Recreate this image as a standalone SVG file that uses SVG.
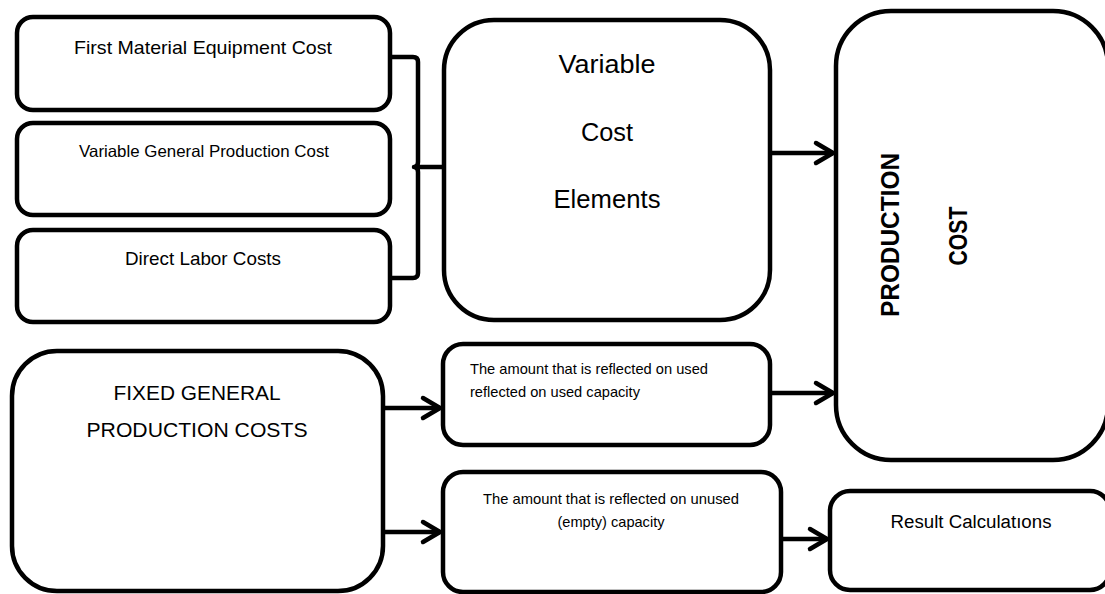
<svg xmlns="http://www.w3.org/2000/svg" width="1105" height="594" viewBox="0 0 1105 594">
<style>
.box{fill:#fff;stroke:#000;stroke-width:4.5}
.t{font-family:"Liberation Sans",Arial,sans-serif;fill:#000;text-anchor:middle}
.tl{font-family:"Liberation Sans",Arial,sans-serif;fill:#000;text-anchor:start}
.b{font-weight:bold}
.con{fill:none;stroke:#000;stroke-width:4.5;stroke-linecap:butt;stroke-linejoin:round}
</style>
<defs>
<marker id="arr" markerUnits="userSpaceOnUse" markerWidth="30" markerHeight="30" viewBox="-25 -15 30 30" refX="0" refY="0" orient="auto">
<path d="M-17,-10 L0,0 L-17,10" fill="none" stroke="#000" stroke-width="4.5" stroke-linecap="round" stroke-linejoin="round"/>
</marker>
</defs>
<rect width="1105" height="594" fill="#fff"/>
<g id="first-material">
<rect class="box" x="17" y="17" width="373" height="93" rx="16"/>
<text class="t" x="203" y="54" font-size="19" textLength="258" lengthAdjust="spacingAndGlyphs">First Material Equipment Cost</text>
</g>
<g id="variable-general">
<rect class="box" x="17" y="123" width="373" height="92" rx="16"/>
<text class="t" x="204" y="157" font-size="16.5" textLength="250" lengthAdjust="spacingAndGlyphs">Variable General Production Cost</text>
</g>
<g id="direct-labor">
<rect class="box" x="17" y="230" width="373" height="92" rx="16"/>
<text class="t" x="203" y="265" font-size="18.5" textLength="156" lengthAdjust="spacingAndGlyphs">Direct Labor Costs</text>
</g>
<g id="variable-cost-elements">
<rect class="box" x="444" y="20" width="326" height="300" rx="50"/>
<text class="t" x="607" y="73" font-size="25" textLength="97" lengthAdjust="spacingAndGlyphs">Variable</text>
<text class="t" x="607" y="141" font-size="25" textLength="52" lengthAdjust="spacingAndGlyphs">Cost</text>
<text class="t" x="607" y="208" font-size="25" textLength="107" lengthAdjust="spacingAndGlyphs">Elements</text>
</g>
<g id="production-cost">
<rect class="box" x="836" y="11" width="272" height="449" rx="55"/>
<text class="t b" transform="translate(899,235) rotate(-90)" font-size="26" textLength="164" lengthAdjust="spacingAndGlyphs">PRODUCTION</text>
<text class="t b" transform="translate(967,236) rotate(-90)" font-size="26" textLength="59" lengthAdjust="spacingAndGlyphs">COST</text>
</g>
<g id="fixed-general">
<rect class="box" x="12" y="351" width="371" height="240" rx="45"/>
<text class="t" x="197" y="400" font-size="21" textLength="167" lengthAdjust="spacingAndGlyphs">FIXED GENERAL</text>
<text class="t" x="197" y="437" font-size="21" textLength="221" lengthAdjust="spacingAndGlyphs">PRODUCTION COSTS</text>
</g>
<g id="used-capacity">
<rect class="box" x="443" y="344" width="327" height="101" rx="20"/>
<text class="tl" x="470" y="374" font-size="14.5" textLength="238" lengthAdjust="spacingAndGlyphs">The amount that is reflected on used</text>
<text class="tl" x="470" y="397" font-size="14.5" textLength="170" lengthAdjust="spacingAndGlyphs">reflected on used capacity</text>
</g>
<g id="unused-capacity">
<rect class="box" x="443" y="472" width="338" height="120" rx="20"/>
<text class="t" x="611" y="504" font-size="14.5" textLength="256" lengthAdjust="spacingAndGlyphs">The amount that is reflected on unused</text>
<text class="t" x="611" y="527" font-size="14.5" textLength="107" lengthAdjust="spacingAndGlyphs">(empty) capacity</text>
</g>
<g id="result-calculations">
<rect class="box" x="830" y="491" width="280" height="99" rx="20"/>
<text class="t" x="971" y="528" font-size="18" textLength="161" lengthAdjust="spacingAndGlyphs">Result Calculatıons</text>
</g>
<g id="connectors">
<path class="con" d="M390,57 H413 Q418,57 418,62 V162 Q418,167 414,167 Q418,167 418,172 V273 Q418,278 413,278 H390" stroke-width="4"/>
<path class="con" d="M418,167 H444" stroke-width="4"/>
<path class="con" d="M770,153 H833" marker-end="url(#arr)"/>
<path class="con" d="M770,393 H833" marker-end="url(#arr)"/>
<path class="con" d="M383,408 H440" marker-end="url(#arr)"/>
<path class="con" d="M383,532 H440" marker-end="url(#arr)"/>
<path class="con" d="M781,539 H827" marker-end="url(#arr)"/>
</g>
</svg>
